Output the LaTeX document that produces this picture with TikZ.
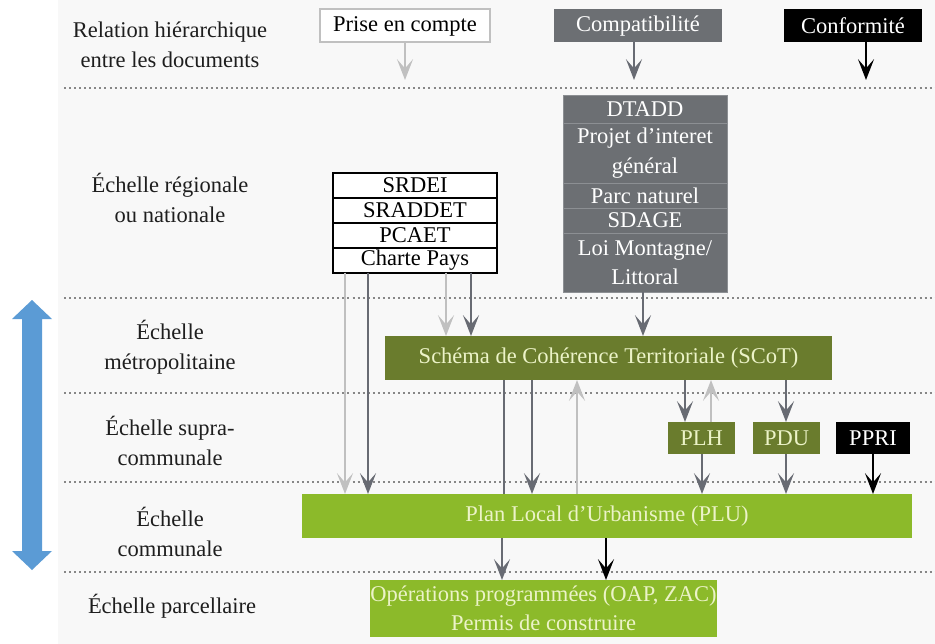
\documentclass[tikz,border=0pt]{standalone}
\usepackage{fontspec}
\setmainfont{Liberation Serif}
\usetikzlibrary{arrows.meta,positioning}
\definecolor{panelgray}{RGB}{248,248,248}
\definecolor{sepgray}{RGB}{135,135,135}
\definecolor{stackgray}{RGB}{108,111,115}
\definecolor{stackline}{RGB}{140,143,147}
\definecolor{scotgreen}{RGB}{106,124,45}
\definecolor{plugreen}{RGB}{140,186,42}
\definecolor{palegreen}{RGB}{236,243,200}
\definecolor{lightarrow}{RGB}{192,192,192}
\definecolor{darkarrow}{RGB}{104,107,115}
\definecolor{scaleblue}{RGB}{91,155,213}
\definecolor{labeltext}{RGB}{30,30,30}
\newlength\pix
\setlength\pix{0.025cm}
\tikzset{
  lab/.style={align=center, text=labeltext, font=\fontsize{16}{21}\selectfont},
  box/.style={inner sep=0pt, outer sep=0pt, align=center,
              font=\fontsize{16}{21}\selectfont},
  legend/.style={box, minimum height=33*\pix},
  regrow/.style={box, draw=black, line width=2*\pix, fill=white,
                 minimum width=164*\pix, minimum height=25*\pix},
  natrow/.style={box, draw=stackline, line width=0.8*\pix, fill=stackgray,
                 text=white, minimum width=164*\pix, minimum height=25*\pix},
  docbox/.style={box, fill=scotgreen, text=palegreen},
  plubox/.style={box, fill=plugreen, text=palegreen},
  sep/.style={draw=sepgray, line width=1.5pt, dash pattern=on 1.4pt off 2.2pt},
  tip/.style={-{Stealth[length=5.2mm, width=4mm, inset=2.3mm]}, line width=1.6pt},
  lightarr/.style={tip, draw=lightarrow, fill=lightarrow},
  darkarr/.style={tip, draw=darkarrow, fill=darkarrow},
  blackarr/.style={tip, draw=black, fill=black},
  darkline/.style={draw=darkarrow, line width=1.6pt}
}
\begin{document}
\begin{tikzpicture}[x=0.025cm, y=-0.025cm]
  \useasboundingbox (0,0) rectangle (935,644);
  \fill[panelgray] (58,0) rectangle (935,644);
  % separations between the scales
  \foreach \yy in {88,298,393,482,572}
    \draw[sep] (64,\yy) -- (935,\yy);
  % scale labels
  \node[lab] (relation) at (170,45) {Relation hiérarchique\\entre les documents};
  \node[lab] (regional) at (170,198) {Échelle régionale\\ou nationale};
  \node[lab] (metro) at (170,347) {Échelle\\métropolitaine};
  \node[lab] (supra) at (170,441) {Échelle supra-\\communale};
  \node[lab] (communale) at (170,532) {Échelle\\communale};
  \node[lab] (parcel) at (172,606) {Échelle parcellaire};
  % blue scale arrow
  \fill[scaleblue] (32,300) -- (52,319) -- (42,319) -- (42,551) -- (52,551)
    -- (32,570) -- (12,551) -- (22,551) -- (22,319) -- (12,319) -- cycle;
  % legend
  \node[legend, draw=lightarrow, line width=2*\pix, fill=white,
        minimum width=170*\pix] (prise) at (405,26) {Prise en compte};
  \node[legend, fill=stackgray, text=white, minimum width=168*\pix]
        (compat) at (638,26) {Compatibilité};
  \node[legend, fill=black, text=white, minimum width=138*\pix]
        (conf) at (853,26) {Conformité};
  \coordinate (prisetip) at (405,80);
  \coordinate (compattip) at (634,80);
  \coordinate (conftip) at (866,80);
  \draw[lightarr] (prise.south -| prisetip) -- (prisetip);
  \draw[darkarr] (compat.south -| compattip) -- (compattip);
  \draw[blackarr] (conf.south -| conftip) -- (conftip);
  % regional documents
  \node[regrow] (srdei) at (415,185) {SRDEI};
  \node[regrow, below=0pt of srdei] (sraddet) {SRADDET};
  \node[regrow, below=0pt of sraddet] (pcaet) {PCAET};
  \node[regrow, below=0pt of pcaet] (charte) {Charte Pays};
  \node[natrow, minimum height=28*\pix] (dtadd) at (645,109) {DTADD};
  \node[natrow, minimum height=60*\pix, below=0pt of dtadd] (pig) {Projet d'interet\\général};
  \node[natrow, below=0pt of pig] (parc) {Parc naturel};
  \node[natrow, below=0pt of parc] (sdage) {SDAGE};
  \node[natrow, minimum height=59*\pix, below=0pt of sdage] (loi) {Loi Montagne/\\Littoral};
  % planning documents
  \node[docbox, minimum width=447*\pix, minimum height=44*\pix]
        (scot) at (608.5,358) {Schéma de Cohérence Territoriale (SCoT)};
  \node[docbox, minimum width=67*\pix, minimum height=32*\pix] (plh) at (701.5,438) {PLH};
  \node[docbox, minimum width=67*\pix, minimum height=32*\pix] (pdu) at (786.5,438) {PDU};
  \node[box, fill=black, text=white, minimum width=74*\pix, minimum height=32*\pix]
        (ppri) at (873,438) {PPRI};
  \node[plubox, minimum width=610*\pix, minimum height=44*\pix]
        (plu) at (607,516) {Plan Local d'Urbanisme (PLU)};
  \node[plubox, minimum width=307*\pix, minimum height=57*\pix]
        (oap) at (543.5,608.5) {Opérations programmées (OAP, ZAC)\\Permis de construire};
  % relations
  \draw[lightarr] (charte.south -| 345,0) -- (plu.north -| 345,0);
  \draw[darkarr] (charte.south -| 368,0) -- (plu.north -| 368,0);
  \draw[lightarr] (charte.south -| 446,0) -- (scot.north -| 446,0);
  \draw[darkarr] (charte.south -| 471,0) -- (scot.north -| 471,0);
  \draw[darkarr] (loi.south -| 643,0) -- (scot.north -| 643,0);
  \draw[darkline] (scot.south -| 504,0) -- (plu.north -| 504,0);
  \draw[darkarr] (scot.south -| 532,0) -- (plu.north -| 532,0);
  \draw[lightarr] (plu.north -| 577,0) -- (scot.south -| 577,0);
  \draw[darkarr] (scot.south -| 685,0) -- (plh.north -| 685,0);
  \draw[lightarr] (plh.north -| 711,0) -- (scot.south -| 711,0);
  \draw[darkarr] (scot.south -| 786,0) -- (pdu.north -| 786,0);
  \draw[darkarr] (plh.south -| 702,0) -- (plu.north -| 702,0);
  \draw[darkarr] (pdu.south -| 786,0) -- (plu.north -| 786,0);
  \draw[blackarr] (ppri.south -| 873,0) -- (plu.north -| 873,0);
  \draw[darkarr] (plu.south -| 502,0) -- (oap.north -| 502,0);
  \draw[blackarr] (plu.south -| 606,0) -- (oap.north -| 606,0);
\end{tikzpicture}
\end{document}
